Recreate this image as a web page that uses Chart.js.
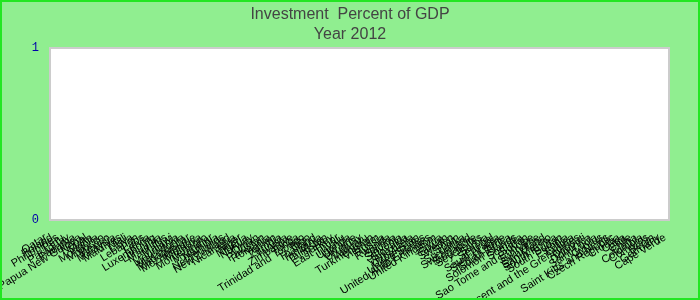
<!DOCTYPE html>
<html>
<head>
<meta charset="utf-8">
<script src="https://cdn.jsdelivr.net/npm/chart.js@4"></script>
<style>
    body { margin: 0; background: #ffffff; }
    #wrap {
        width: 700px;
        height: 300px;
        box-sizing: border-box;
        border: 2px solid #22e622;
        background: #90ee90;
    }
</style>
</head>
<body>
<div id="wrap"><canvas id="investChart"></canvas></div>
<script>
// Countries along the x axis (labels overlap heavily in the original)
const countries = [
    "Qatar", "Poland", "Philippines", "Peru", "Paraguay", "Panama", "Papua New Guinea", "Nepal",
    "Malta", "Mongolia", "Morocco", "Mexico", "Malaysia", "Maldives", "Mali", "Libya",
    "Lebanon", "Laos", "Latvia", "Luxembourg", "Lithuania", "Mauritius", "Malawi", "Mauritania",
    "Macedonia", "Madagascar", "Mozambique", "Moldova", "Montenegro", "Myanmar", "Namibia",
    "Netherlands", "New Zealand", "Nicaragua", "Niger", "Nigeria", "Norway", "Oman", "Pakistan",
    "Romania", "Yemen", "Zambia", "Tunisia", "Zimbabwe", "Tonga", "Trinidad and Tobago", "Togo",
    "Thailand", "Tanzania", "Tajikistan", "Turkey", "East Timor", "Tuvalu", "Uganda", "Ukraine",
    "Uruguay", "Vanuatu", "Turkmenistan", "Vietnam", "Russia", "Rwanda", "Samoa", "Slovenia",
    "Slovakia", "Venezuela", "Uzbekistan", "United States", "United Arab Emirates", "United Kingdom",
    "Syria", "Taiwan", "Sweden", "Spain", "Sri Lanka", "Switzerland", "Singapore", "Seychelles",
    "Serbia", "Senegal", "Saudi Arabia", "Sierra Leone", "South Africa", "Solomon Islands", "Somalia",
    "Sudan", "Sao Tome and Principe", "Suriname", "Swaziland", "San Marino", "South Korea",
    "South Sudan", "Estonia", "Eritrea", "Saint Vincent and the Grenadines", "Djibouti", "Dominica",
    "Saint Lucia", "Cyprus", "Saint Kitts and Nevis", "Czech Republic", "Croatia", "Cuba", "Chile",
    "China", "Colombia", "Comoros", "Benin", "Germany", "Cape Verde"
];

// No bars are drawn in the original: the series is empty
const investmentPct = [];

const titleLines = ["Investment  Percent of GDP", "Year 2012"];

// white plot area with a grey frame
const plotFrame = {
    id: 'plotFrame',
    beforeDraw(chart) {
        const a = chart.chartArea;
        const ctx = chart.ctx;
        ctx.save();
        ctx.fillStyle = '#ffffff';
        ctx.fillRect(a.left, a.top, a.right - a.left, a.bottom - a.top);
        ctx.strokeStyle = '#cccccc';
        ctx.lineWidth = 2;
        ctx.strokeRect(a.left, a.top, a.right - a.left, a.bottom - a.top);
        ctx.restore();
    }
};

const ctx = document.getElementById('investChart').getContext('2d');
new Chart(ctx, {
    type: 'bar',
    data: {
        labels: countries,
        datasets: [{
            label: 'Investment',
            data: investmentPct,
            backgroundColor: '#4472c4'
        }]
    },
    plugins: [plotFrame],
    options: {
        responsive: true,
        maintainAspectRatio: false,
        animation: false,
        layout: { padding: 0 },
        plugins: {
            legend: { display: false },
            tooltip: { enabled: false },
            title: {
                display: true,
                text: titleLines,
                color: '#444444',
                font: { family: 'Arial, "Liberation Sans"', size: 16, weight: 'normal', lineHeight: 1.25 },
                padding: { top: 3, bottom: 3 }
            }
        },
        scales: {
            x: {
                offset: false,
                grid: { display: false },
                border: { display: false },
                ticks: {
                    autoSkip: false,
                    minRotation: 32,
                    maxRotation: 32,
                    labelOffset: -4,
                    padding: 3,
                    color: '#000000',
                    font: { family: 'Arial, "Liberation Sans"', size: 11 }
                },
                afterFit: scale => { scale.height = 78; }
            },
            y: {
                min: 0,
                max: 1,
                grid: { display: false, drawTicks: false },
                border: { display: false },
                ticks: {
                    stepSize: 1,
                    padding: 11,
                    color: '#0000aa',
                    font: { family: '"Liberation Mono", monospace', size: 12 }
                },
                afterFit: scale => { scale.width = 48; }
            },
            // empty right-hand axis, only keeps the space right of the plot
            yRight: {
                position: 'right',
                min: 0,
                max: 1,
                grid: { display: false, drawTicks: false },
                border: { display: false },
                ticks: { display: false },
                afterFit: scale => { scale.width = 29; }
            }
        }
    }
});
</script>
</body>
</html>
